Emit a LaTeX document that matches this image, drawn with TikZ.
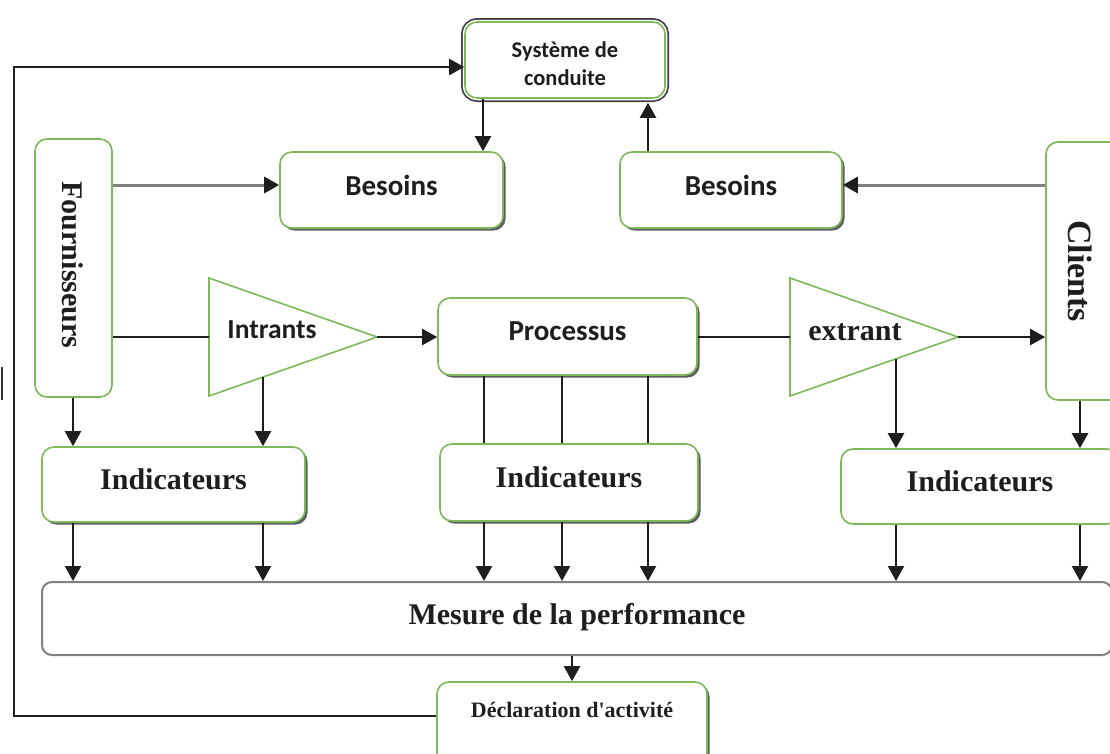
\documentclass[tikz,border=0pt]{standalone}
\usepackage{fontspec}
\setmainfont{Liberation Serif}
\newfontfamily\calib{Carlito}
\usetikzlibrary{arrows.meta,shadows}
\definecolor{grn}{HTML}{7DB95B}
\definecolor{ln}{HTML}{1E1E1E}
\begin{document}
\begin{tikzpicture}[x=1pt,y=-1pt,
  box/.style={draw=grn, line width=1.6pt, rounded corners=12pt, fill=white, inner sep=0pt},
  shad/.style={drop shadow={shadow xshift=2.5pt, shadow yshift=-2.5pt, fill=black!70, opacity=0.9}},
  sansb/.style={font=\calib\bfseries\fontsize{29}{32}\selectfont},
  serifb/.style={font=\bfseries\fontsize{30}{33}\selectfont},
  conn/.style={draw=ln, line width=2.3pt},
  arr/.style={conn, -{Triangle[length=15pt,width=16pt]}},
  garr/.style={draw=black!50, line width=3pt, -{Triangle[length=15pt,width=16pt,color=ln]}},
  txt/.style={inner sep=0pt, text=ln}]
\useasboundingbox (0,0) rectangle (1110,753);
\fill[white] (0,0) rectangle (1110,753);

% column / row helpers
\coordinate (c73) at (73,0);
\coordinate (c263) at (263,0);
\coordinate (c483) at (483,0);
\coordinate (c484) at (484,0);
\coordinate (c562) at (562,0);
\coordinate (c648) at (648,0);
\coordinate (c896) at (896,0);
\coordinate (c1080) at (1080,0);
\coordinate (r185) at (0,185);
\coordinate (r337) at (0,337);

% Systeme de conduite (with dark frame)
\node[box, minimum width=200pt, minimum height=76pt,
      preaction={draw=black!75, line width=8pt},
      preaction={draw=white, line width=4.5pt},
      font=\calib\bfseries\fontsize{22.5}{28}\selectfont, text=ln]
  (sys) at (565,60) {\raisebox{-5.5pt}[\height][\depth]{\begin{tabular}{@{}c@{}}Système de\\conduite\end{tabular}}};

% Besoins boxes
\node[box, shad, sansb, text=ln, minimum width=223pt, minimum height=76pt, text depth=10pt]
  (besL) at (391.5,190) {Besoins};
\node[box, shad, sansb, text=ln, minimum width=222pt, minimum height=76pt, text depth=10pt]
  (besR) at (731,190) {Besoins};

% Fournisseurs / Clients
\node[box, minimum width=77pt, minimum height=258pt] (four) at (73.5,268) {};
\node[txt, serifb, rotate=-90] (fourt) at (73,265) {Fournisseurs};
\node[box, minimum width=79pt, minimum height=258pt] (cli) at (1085.5,271) {};
\node[txt, font=\bfseries\fontsize{34}{36}\selectfont, rotate=-90] (clit) at (1080,271) {Clients};

% Processus
\node[box, shad, sansb, text=ln, minimum width=259pt, minimum height=77pt, text depth=11pt]
  (proc) at (567.5,336.5) {Processus};

% triangles
\coordinate (tinT) at (209,278);
\coordinate (tinB) at (209,396);
\coordinate (tinA) at (377,337);
\coordinate (tinL) at (209,337);
\draw[grn, line width=1.6pt, fill=white] (tinT) -- (tinA) -- (tinB) -- cycle;
\node[txt, font=\calib\bfseries\fontsize{27.5}{30}\selectfont] (tint) at (272,330) {Intrants};
\coordinate (texT) at (790,278);
\coordinate (texB) at (790,396);
\coordinate (texA) at (958,337);
\coordinate (texL) at (790,337);
\draw[grn, line width=1.6pt, fill=white] (texT) -- (texA) -- (texB) -- cycle;
\node[txt, serifb] (text) at (855,332) {extrant};
\coordinate (tinS) at (263,377);
\coordinate (texS) at (896,359);

% Indicateurs
\node[box, shad, serifb, text=ln, minimum width=263pt, minimum height=75pt, text depth=11pt]
  (indL) at (173.5,484.5) {Indicateurs};
\node[box, shad, serifb, text=ln, minimum width=258pt, minimum height=77pt, text depth=11pt]
  (indM) at (569,482.5) {Indicateurs};
\node[box, serifb, text=ln, minimum width=278pt, minimum height=75pt, text depth=11pt]
  (indR) at (980,486.5) {Indicateurs};

% Mesure
\node[draw=black!50, line width=2pt, rounded corners=10pt, fill=white, inner sep=0pt,
      serifb, text=ln, minimum width=1070pt, minimum height=73pt, text depth=10pt]
  (mes) at (577,618.5) {Mesure de la performance};

% Declaration
\node[box, shad, text=ln, font=\bfseries\fontsize{22}{24}\selectfont,
      minimum width=270pt, minimum height=83pt, text depth=27pt]
  (dec) at (572,723.5) {Déclaration d\textquotesingle activité};

% connectors top
\draw[arr] (sys.south -| c483) -- (besL.north -| c483);
\draw[arr, shorten >=4pt] (besR.north -| c648) -- (sys.south -| c648);
\draw[garr] (four.east |- r185) -- (besL.west |- r185);
\draw[garr] (cli.west |- r185) -- (besR.east |- r185);

% main line
\draw[conn] (four.east |- r337) -- (tinL);
\draw[arr] (tinA) -- (proc.west |- r337);
\draw[conn] (proc.east |- r337) -- (texL);
\draw[arr] (texA) -- (cli.west |- r337);

% to indicateurs
\draw[arr] (four.south -| c73) -- (indL.north -| c73);
\draw[arr] (tinS) -- (indL.north -| c263);
\draw[conn] (proc.south -| c484) -- (indM.north -| c484);
\draw[conn] (proc.south -| c562) -- (indM.north -| c562);
\draw[conn] (proc.south -| c648) -- (indM.north -| c648);
\draw[arr] (texS) -- (indR.north -| c896);
\draw[arr] (cli.south -| c1080) -- (indR.north -| c1080);

% to mesure
\draw[arr] (indL.south -| c73) -- (mes.north -| c73);
\draw[arr] (indL.south -| c263) -- (mes.north -| c263);
\draw[arr] (indM.south -| c484) -- (mes.north -| c484);
\draw[arr] (indM.south -| c562) -- (mes.north -| c562);
\draw[arr] (indM.south -| c648) -- (mes.north -| c648);
\draw[arr] (indR.south -| c896) -- (mes.north -| c896);
\draw[arr] (indR.south -| c1080) -- (mes.north -| c1080);

% mesure to declaration
\draw[arr] (mes.south -| dec.north) -- (dec.north);

% feedback loop
\coordinate (fbL) at (14,400);
\draw[arr] ([yshift=7.5pt]dec.west) -| (fbL) |- ([yshift=-7pt]sys.west);

% small mark at left edge
\draw[black!80, line width=1.5pt] (2,367) -- (2,400);
\end{tikzpicture}
\end{document}
